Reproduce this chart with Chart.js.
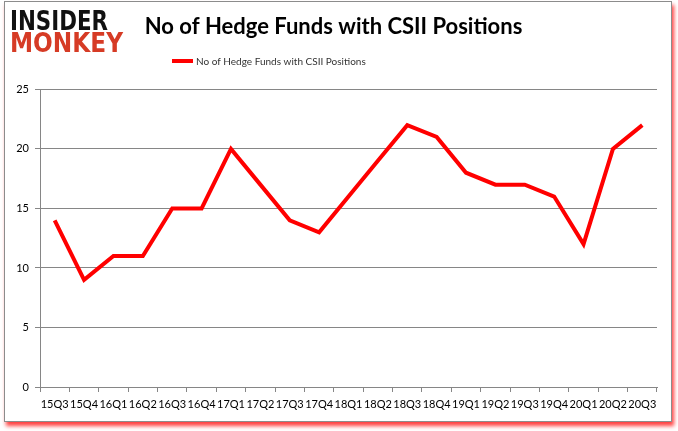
<!DOCTYPE html>
<html>
<head>
<meta charset="utf-8">
<script src="https://cdn.jsdelivr.net/npm/chart.js@4"></script>
<style>
  body { margin: 0; background: #fff; }
  #wrap { position: relative; width: 678px; height: 431px; }
  #frame {
    position: absolute; left: 4px; top: 1px; width: 666px; height: 419px;
    border: 1px solid #8c8c8c; background: #fff;
    box-shadow: 2px 4px 4px rgba(255, 0, 0, 0.75);
  }
  #c { position: absolute; left: 0; top: 0; }
</style>
</head>
<body>
<div id="wrap">
  <div id="frame"></div>
  <canvas id="c" width="678" height="431"></canvas>
</div>
<script>
var quarters = ['15Q3', '15Q4', '16Q1', '16Q2', '16Q3', '16Q4', '17Q1', '17Q2', '17Q3', '17Q4',
  '18Q1', '18Q2', '18Q3', '18Q4', '19Q1', '19Q2', '19Q3', '19Q4', '20Q1', '20Q2', '20Q3'];
var funds = [14, 9, 11, 11, 15, 15, 20, 17, 14, 13, 16, 19, 22, 21, 18, 17, 17, 16, 12, 20, 22];
var yTicks = [0, 5, 10, 15, 20, 25];

var seriesName = 'No of Hedge Funds with CSII Positions';
var lineRed = '#ff0000';

// logo in the top-left corner
const logoPlugin = {
  id: 'logo',
  afterDraw(chart) {
    const ctx = chart.ctx;
    ctx.save();
    ctx.textBaseline = 'alphabetic';
    ctx.textAlign = 'left';
    ctx.font = '900 27px "DejaVu Sans"';
    ctx.fillStyle = '#111';
    ctx.fillText('INSIDER', 10, 30, 98);
    ctx.fillStyle = '#d63b25';
    ctx.fillText('MONKEY', 10, 52, 113);
    ctx.restore();
  }
};

// legend sits left of centre in the original, so draw it by hand
const legendPlugin = {
  id: 'sideLegend',
  afterDraw(chart) {
    const ctx = chart.ctx;
    const ds = chart.data.datasets[0];
    ctx.save();
    ctx.strokeStyle = ds.borderColor;
    ctx.lineWidth = 4;
    ctx.beginPath();
    ctx.moveTo(172, 61);
    ctx.lineTo(193, 61);
    ctx.stroke();
    ctx.fillStyle = '#333';
    ctx.font = '10px Lato';
    ctx.textBaseline = 'middle';
    ctx.fillText(ds.label, 196, 61.5);
    ctx.restore();
  }
};

const ctx = document.getElementById('c');

new Chart(ctx, {
  type: 'line',
  data: {
    labels: quarters,
    datasets: [{
      label: seriesName,
      data: funds,
      borderColor: lineRed,
      backgroundColor: lineRed,
      borderWidth: 4,
      pointRadius: 0,
      tension: 0
    }]
  },
  options: {
    responsive: false,
    animation: false,
    layout: {
      padding: { left: 10, right: 21, top: 0, bottom: 14 }
    },
    scales: {
      x: {
        offset: true,
        grid: {
          offset: true,
          drawOnChartArea: false,
          drawTicks: true,
          tickLength: 5,
          color: '#868686'
        },
        border: { color: '#868686' },
        ticks: {
          autoSkip: false,
          maxRotation: 0,
          minRotation: 0,
          padding: 6,
          color: '#000',
          font: { family: 'Lato', size: 11 }
        },
        afterFit(scale) { scale.height = 30; }
      },
      y: {
        min: 0,
        max: 25,
        afterBuildTicks(scale) {
          scale.ticks = yTicks.map(v => ({ value: v }));
        },
        grid: {
          color: '#868686',
          tickLength: 5
        },
        border: { color: '#868686' },
        ticks: {
          padding: 6,
          color: '#000',
          font: { family: 'Lato', size: 11 }
        },
        afterFit(scale) { scale.width = 30; }
      }
    },
    plugins: {
      title: {
        display: true,
        text: 'No of Hedge Funds with CSII Positions',
        color: '#000',
        font: { family: 'Lato', size: 22, weight: 'bold' },
        padding: { top: 14, bottom: 49 }
      },
      legend: { display: false },
      tooltip: { enabled: false }
    }
  },
  plugins: [logoPlugin, legendPlugin]
});
</script>
</body>
</html>
